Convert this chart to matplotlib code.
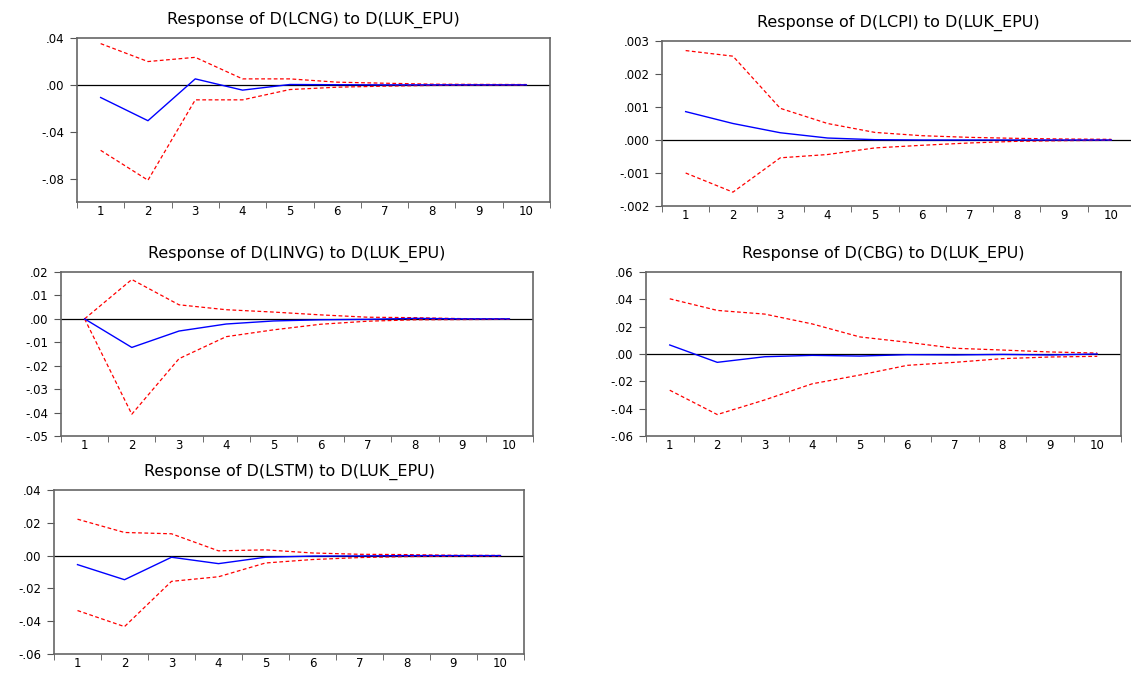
import numpy as np
import matplotlib
matplotlib.use('Agg')
import matplotlib.pyplot as plt
from matplotlib.ticker import FuncFormatter

# periods
periods = [1, 2, 3, 4, 5, 6, 7, 8, 9, 10]

# Response of D(LCNG)
lcng_resp = [-0.0108, -0.0306, 0.0051, -0.0045, 0.0003, 0.0001, 0.0000, 0.0000, 0.0000, 0.0000]
lcng_up = [0.0352, 0.0199, 0.0235, 0.0051, 0.0051, 0.0023, 0.0014, 0.0006, 0.0004, 0.0003]
lcng_lo = [-0.0559, -0.0814, -0.0128, -0.0128, -0.0040, -0.0020, -0.0011, -0.0005, -0.0003, -0.0002]

# Response of D(LCPI)
lcpi_resp = [0.00086, 0.00050, 0.00022, 0.00006, 0.00001, 0.0, 0.0, 0.0, 0.0, 0.0]
lcpi_up = [0.00271, 0.00254, 0.00096, 0.00050, 0.00023, 0.00013, 0.00008, 0.00005, 0.00003, 0.00002]
lcpi_lo = [-0.00100, -0.00158, -0.00054, -0.00044, -0.00024, -0.00016, -0.00009, -0.00004, -0.00002, -0.00001]

# Response of D(LINVG)
linvg_resp = [0.0, -0.0122, -0.0052, -0.0022, -0.0009, -0.0004, -0.0002, 0.0002, 0.0, 0.0]
linvg_up = [0.0, 0.0168, 0.0060, 0.0039, 0.0029, 0.0017, 0.0007, 0.0005, 0.0001, 0.0]
linvg_lo = [0.0, -0.0407, -0.0170, -0.0076, -0.0047, -0.0023, -0.0010, -0.0004, -0.0003, -0.0002]

# Response of D(CBG)
cbg_resp = [0.0066, -0.0061, -0.0020, -0.0010, -0.0015, -0.0005, -0.0007, -0.0003, -0.0007, 0.0]
cbg_up = [0.0404, 0.0319, 0.0292, 0.0220, 0.0125, 0.0086, 0.0042, 0.0029, 0.0015, 0.0007]
cbg_lo = [-0.0265, -0.0443, -0.0336, -0.0218, -0.0154, -0.0083, -0.0061, -0.0034, -0.0022, -0.0017]

# Response of D(LSTM)
lstm_resp = [-0.0055, -0.0147, -0.0010, -0.0049, -0.0010, -0.0003, -0.0002, 0.0, 0.0, 0.0]
lstm_up = [0.0222, 0.0141, 0.0133, 0.0029, 0.0035, 0.0016, 0.0008, 0.0006, 0.0002, 0.0001]
lstm_lo = [-0.0335, -0.0433, -0.0157, -0.0129, -0.0045, -0.0024, -0.0012, -0.0006, -0.0004, -0.0003]

W, H = 1131, 673
fig = plt.figure(figsize=(W / 100, H / 100), dpi=100)
fig.patch.set_facecolor('white')


def fmt(decimals):
    def f(v, pos):
        s = f'{v:.{decimals}f}'
        if abs(v) < 10 ** (-decimals - 1):
            s = f'{0:.{decimals}f}'
        return s.replace('0.', '.', 1)
    return FuncFormatter(f)


def panel(left, right, top, bottom, title, resp, up, lo, yticks, decimals):
    ax = fig.add_axes([left / W, 1 - bottom / H, (right - left) / W, (bottom - top) / H])
    ax.plot(periods, up, color='red', lw=0.9, ls=(0, (3, 2)))
    ax.plot(periods, lo, color='red', lw=0.9, ls=(0, (3, 2)))
    ax.plot(periods, resp, color='blue', lw=1.0)
    ax.axhline(0, color='black', lw=0.9, zorder=0)
    ax.set_xlim(0.5, 10.5)
    ax.set_ylim(yticks[0], yticks[-1])
    ax.set_yticks(yticks)
    ax.yaxis.set_major_formatter(fmt(decimals))
    ax.set_xticks(periods)
    ax.set_xticks(np.arange(0.5, 11, 1), minor=True)
    ax.tick_params(axis='x', which='major', length=0, pad=2.5, labelsize=8.5)
    ax.tick_params(axis='x', which='minor', length=4, color='#555555')
    ax.tick_params(axis='y', length=5, pad=4, labelsize=8.5, color='#555555')
    for s in ax.spines.values():
        s.set_color('#666666')
        s.set_linewidth(1.2)
    ax.set_title(title, fontsize=11.5, pad=10)
    return ax


panel(77, 550, 38, 202, 'Response of D(LCNG) to D(LUK_EPU)',
      lcng_resp, lcng_up, lcng_lo, [-0.10, -0.08, -0.04, 0.00, 0.04], 2)
panel(662, 1135, 41, 206, 'Response of D(LCPI) to D(LUK_EPU)',
      lcpi_resp, lcpi_up, lcpi_lo, [-0.002, -0.001, 0.000, 0.001, 0.002, 0.003], 3)
panel(61, 533, 272, 436, 'Response of D(LINVG) to D(LUK_EPU)',
      linvg_resp, linvg_up, linvg_lo, [-0.05, -0.04, -0.03, -0.02, -0.01, 0.00, 0.01, 0.02], 2)
panel(646, 1121, 272, 436, 'Response of D(CBG) to D(LUK_EPU)',
      cbg_resp, cbg_up, cbg_lo, [-0.06, -0.04, -0.02, 0.00, 0.02, 0.04, 0.06], 2)
panel(54, 524, 490, 654, 'Response of D(LSTM) to D(LUK_EPU)',
      lstm_resp, lstm_up, lstm_lo, [-0.06, -0.04, -0.02, 0.00, 0.02, 0.04], 2)

# first panel: -.10 is not labelled in the original
fig.axes[0].set_yticks([-0.08, -0.04, 0.00, 0.04])

fig.savefig('out.png', dpi=100)
